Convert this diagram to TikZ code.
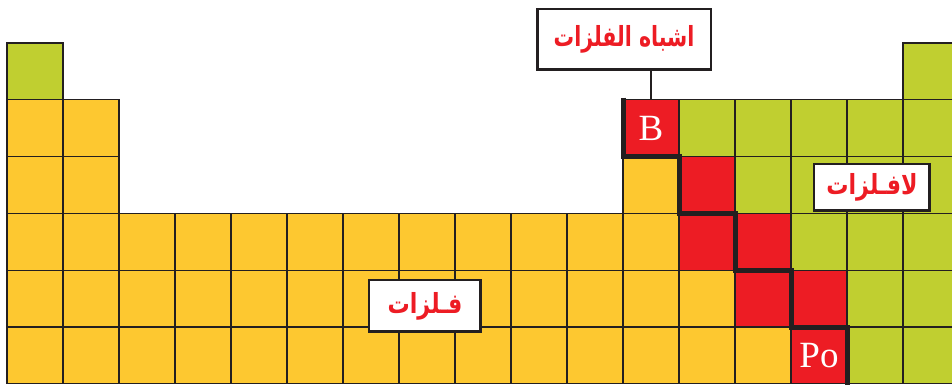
\documentclass[tikz,border=0pt]{standalone}
\usepackage{fontspec}
\usepackage{graphicx}
\usepackage{xcolor}
\usepackage{tikz}
\usetikzlibrary{positioning,calc}
\setmainfont{Liberation Serif}
\newfontfamily\arabicfont[Script=Arabic]{DejaVu Sans}
\TeXXeTstate=1
\definecolor{metal}{HTML}{FDC830}
\definecolor{nonmetal}{HTML}{C0CF30}
\definecolor{metalloid}{HTML}{ED1C24}
\definecolor{edge}{HTML}{231F20}
\newcommand{\tall}[1]{\scalebox{1.08}[1.35]{#1}}
\tikzset{
  cellbox/.style={draw=edge,line width=1.2pt},
  symbolcell/.style={cellbox,fill=metalloid,minimum width=56pt,minimum height=56.8pt,inner sep=0pt,
    text=white,font=\fontsize{37}{40}\selectfont},
  labelbox/.style={draw=edge,line width=2.5pt,fill=white,inner sep=0pt,
    font=\arabicfont\bfseries\fontsize{20.5}{24}\selectfont\color{metalloid}},
}

\begin{document}
\begin{tikzpicture}[x=56pt,y=-56.8pt]
  \useasboundingbox (-0.125,-0.757) rectangle (16.875,6.021);
  \clip (-0.125,-0.757) rectangle (16.875,6.021);
  % metals
  \foreach \c/\r in {0/1,1/1,0/2,1/2,11/2}
     {\filldraw[cellbox,fill=metal] (\c,\r) rectangle ++(1,1);}
  \foreach \r/\n in {3/11,4/12,5/13}
     {\foreach \c in {0,...,\n} {\filldraw[cellbox,fill=metal] (\c,\r) rectangle ++(1,1);}}
  % nonmetals
  \foreach \c/\r in {0/0,16/0}
     {\filldraw[cellbox,fill=nonmetal] (\c,\r) rectangle ++(1,1);}
  \foreach \r/\m in {1/12,2/13,3/14,4/15,5/15}
     {\foreach \c in {\m,...,16} {\filldraw[cellbox,fill=nonmetal] (\c,\r) rectangle ++(1,1);}}
  % metalloids
  \foreach \c/\r in {12/2,12/3,13/3,13/4,14/4}
     {\filldraw[cellbox,fill=metalloid] (\c,\r) rectangle ++(1,1);}
  \node[symbolcell] (B) at (11.5,1.5) {B};
  \node[symbolcell] (Po) at (14.5,5.5) {Po};
  % dividing staircase
  \draw[edge,line width=5pt] (11,0.96) |- (12,2) |- (13,3) |- (14,4) |- (15,5) -- (15,6.1);
  % labels
  \node[labelbox,minimum width=173.5pt,minimum height=60.5pt] (meta) at (11.018,-0.062)
     {\scalebox{1}[1.35]{\beginR اشباه الفلزات\endR}};
  \node[labelbox,minimum width=115.5pt,minimum height=46.5pt] (nonmeta) at (15.446,2.544)
     {\tall{\beginR لافـلزات\endR}};
  \node[labelbox,minimum width=111.5pt,minimum height=51.5pt] (meta2) at (7.464,4.630)
     {\tall{\beginR فـلزات\endR}};
  \draw[edge,line width=2.5pt] (meta.south -| B.north) -- (B.north);
\end{tikzpicture}
\end{document}
